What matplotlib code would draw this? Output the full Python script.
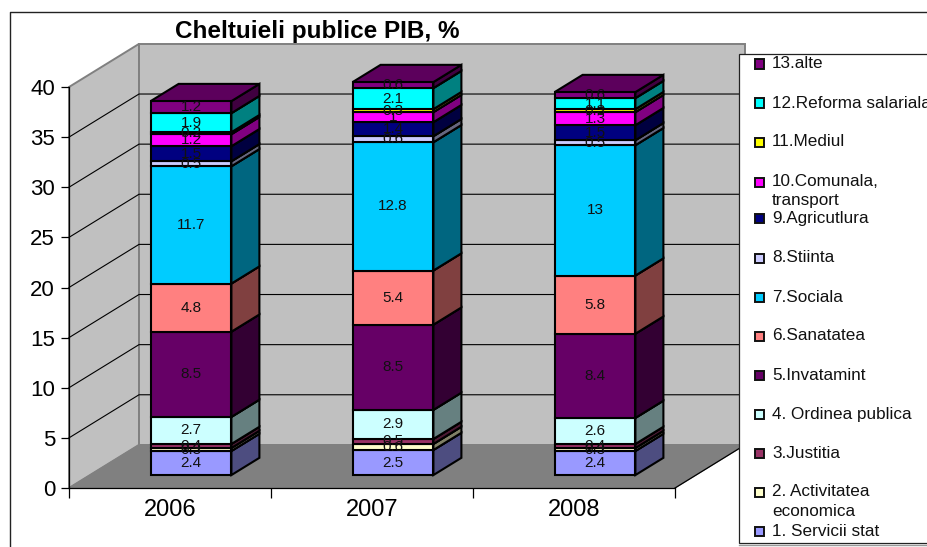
import matplotlib
matplotlib.use("Agg")
import matplotlib.pyplot as plt
from matplotlib.patches import Polygon, Rectangle
from matplotlib.colors import to_rgb

years = ["2006", "2007", "2008"]
names = ["1. Servicii stat", "2. Activitatea\neconomica", "3.Justitia", "4. Ordinea publica",
         "5.Invatamint", "6.Sanatatea", "7.Sociala", "8.Stiinta", "9.Agricutlura",
         "10.Comunala,\ntransport", "11.Mediul", "12.Reforma salariala", "13.alte"]
v2006 = [2.4, 0.3, 0.4, 2.7, 8.5, 4.8, 11.7, 0.5, 1.5, 1.2, 0.2, 1.9, 1.2]
v2007 = [2.5, 0.6, 0.5, 2.9, 8.5, 5.4, 12.8, 0.6, 1.4, 1.0, 0.3, 2.1, 0.6]
v2008 = [2.4, 0.3, 0.4, 2.6, 8.4, 5.8, 13.0, 0.5, 1.5, 1.3, 0.3, 1.1, 0.6]
colors = ["#9999FF", "#FFFFCC", "#993366", "#CCFFFF", "#660066", "#FF8080", "#00CCFF",
          "#CCCCFF", "#000080", "#FF00FF", "#FFFF00", "#00FFFF", "#800080"]
yticks = [0, 5, 10, 15, 20, 25, 30, 35, 40]

W, H = 928, 547
plt.rcParams["font.family"] = ["Liberation Sans", "DejaVu Sans"]
fig = plt.figure(figsize=(W / 100, H / 100), dpi=100, facecolor="white")
L, R, B, T = 69, 675, 488, 87
ax = fig.add_axes([L / W, 1 - B / H, (R - L) / W, (B - T) / H])
ax.set_xlim(0, 3)
ax.set_ylim(0, 40)
ax.patch.set_alpha(0)

DX, DY = 70 / 202, 4.3      # full depth of the chart box, in data units
def p(x, y, d):
    return (x + d * DX, y + d * DY)

def poly(pts, fc, ec="none", lw=0, z=1):
    ax.add_patch(Polygon(pts, closed=True, facecolor=fc, edgecolor=ec, linewidth=lw,
                         zorder=z, clip_on=False, joinstyle="miter"))

top = 40
# walls and floor
poly([p(0, 0, 0), p(0, 0, 1), p(0, top, 1), p(0, top, 0)], "#C0C0C0", "#808080", 1.4, 1)
poly([p(0, 0, 1), p(3, 0, 1), p(3, top, 1), p(0, top, 1)], "#C0C0C0", "#808080", 1.4, 1)
poly([p(0, 0, 0), p(3, 0, 0), p(3, 0, 1), p(0, 0, 1)], "#808080", "#808080", 0.8, 1.5)
for t in yticks[1:-1]:
    ax.plot(*zip(p(0, t, 0), p(0, t, 1), p(3, t, 1)), color="black", lw=0.8, zorder=2, clip_on=False)
ax.plot(*zip(p(3, 0, 0), p(3, 0, 1)), color="black", lw=0.9, zorder=2, clip_on=False)

# stacked 3D bars
d0, d1 = 0.30, 0.70
bw = 0.40
z = 3
for i, vals in enumerate([v2006, v2007, v2008]):
    x0 = i + 0.5 - bw / 2
    x1 = i + 0.5 + bw / 2
    base = 0.0
    for k, v in enumerate(vals):
        c = to_rgb(colors[k])
        side = tuple(q * 0.5 for q in c)
        roof = tuple(q * 0.72 for q in c)
        h = base + v
        poly([p(x1, base, d0), p(x1, base, d1), p(x1, h, d1), p(x1, h, d0)], side, "black", 1.5, z)
        poly([p(x0, h, d0), p(x1, h, d0), p(x1, h, d1), p(x0, h, d1)], roof, "black", 1.5, z)
        poly([p(x0, base, d0), p(x1, base, d0), p(x1, h, d0), p(x0, h, d0)], c, "black", 1.5, z)
        base = h
        z += 0.01
for i, vals in enumerate([v2006, v2007, v2008]):
    base = 0.0
    for v in vals:
        x, y = p(i + 0.5, base + v / 2, d0)
        ax.text(x, y, f"{v:g}", ha="center", va="center", fontsize=11, color="#111111", zorder=10)
        base += v

# axes
for s in ("top", "right"):
    ax.spines[s].set_visible(False)
for s in ("left", "bottom"):
    ax.spines[s].set_linewidth(0.9)
    ax.spines[s].set_zorder(2.5)
ax.set_yticks(yticks)
ax.set_yticklabels([str(t) for t in yticks], fontsize=16)
ax.set_xticks([0, 1, 2, 3])
ax.set_xticklabels([])
ax.set_xticks([0.5, 1.5, 2.5], minor=True)
ax.set_xticklabels(years, minor=True, fontsize=17)
ax.tick_params(axis="y", length=6, width=0.9, pad=4)
ax.tick_params(axis="x", which="major", length=7, width=0.9)
ax.tick_params(axis="x", which="minor", length=0, pad=8)

ax.set_title("Cheltuieli publice PIB, %", fontsize=17.5, fontweight="bold",
             x=(317 - L) / (R - L), y=(B - 38) / (B - T), va="baseline", pad=0)

# chart frame and legend, placed in figure pixels
def fx(px): return px / W
def fy(py): return 1 - py / H
fig.add_artist(plt.Line2D([fx(10), fx(10), fx(930)], [fy(549), fy(12), fy(12)], color="#222222", lw=1.0))
fig.add_artist(Rectangle((fx(739), fy(543)), fx(200), 489 / H, transform=fig.transFigure,
                         facecolor="white", edgecolor="#222222", linewidth=0.9, zorder=20))
fig.add_artist(plt.Line2D([fx(739), fx(930)], [fy(544.5), fy(544.5)], color="#999999", lw=1.0, zorder=19))
legend_y = [531, 492, 453, 414, 375, 336, 297, 258, 219, 182, 142, 103, 64]
line_h = 19
for name, col, y in zip(names, colors, legend_y):
    fig.add_artist(Rectangle((fx(755), fy(y + 4.5)), 9 / W, 9 / H, transform=fig.transFigure,
                             facecolor=col, edgecolor="#111111", linewidth=1.4, zorder=21))
    for j, part in enumerate(name.split("\n")):
        fig.text(fx(772), fy(y + j * line_h), part, fontsize=12.3, va="center", ha="left",
                 color="#111111", zorder=22)

fig.savefig("out.png", dpi=100)
